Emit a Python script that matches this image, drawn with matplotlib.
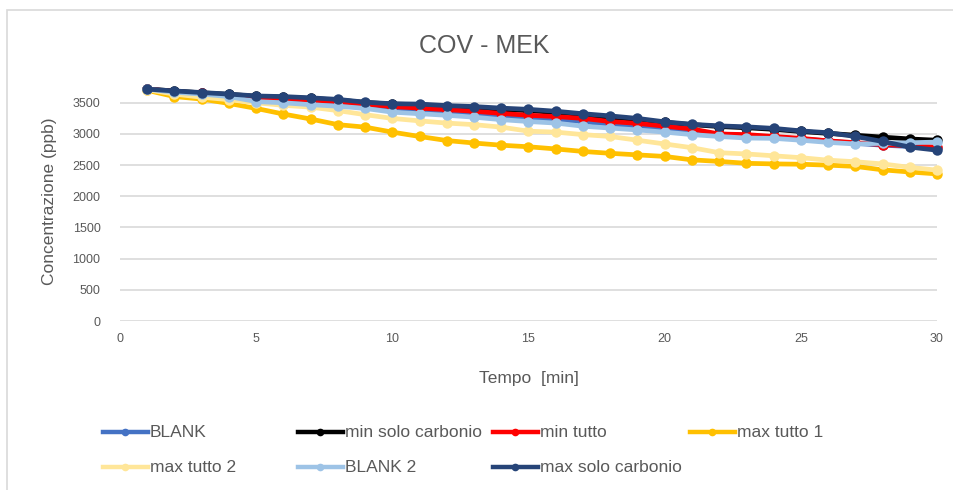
import matplotlib
matplotlib.use("Agg")
import matplotlib.pyplot as plt
from matplotlib.lines import Line2D
from matplotlib.patches import Rectangle

# ---- data -------------------------------------------------------------
minutes = list(range(1, 31))

blank = [3720, 3680, 3650, 3620, 3580, 3560, 3530, 3500, 3470, 3420,
         3380, 3350, 3320, 3290, 3260, 3230, 3200, 3150, 3120, 3080,
         3040, 3000, 2980, 2950, 2920, 2890, 2850, 2820, 2800, 2770]
min_solo_carbonio = [3720, 3690, 3660, 3635, 3605, 3590, 3570, 3545, 3505, 3480,
                     3470, 3440, 3420, 3395, 3375, 3345, 3300, 3270, 3230, 3185,
                     3150, 3120, 3100, 3075, 3040, 3010, 2980, 2950, 2920, 2900]
min_tutto = [3720, 3680, 3650, 3620, 3590, 3570, 3545, 3520, 3480, 3440,
             3415, 3390, 3365, 3330, 3300, 3280, 3250, 3200, 3170, 3125,
             3080, 3000, 2990, 2960, 2930, 2890, 2860, 2830, 2810, 2790]
max_tutto_1 = [3700, 3600, 3560, 3490, 3410, 3320, 3240, 3150, 3110, 3030,
               2960, 2895, 2855, 2820, 2795, 2760, 2720, 2690, 2665, 2640,
               2585, 2560, 2530, 2520, 2515, 2500, 2480, 2425, 2390, 2360]
max_tutto_2 = [3710, 3640, 3590, 3550, 3500, 3460, 3430, 3375, 3310, 3250,
               3210, 3175, 3150, 3110, 3045, 3030, 2990, 2960, 2900, 2840,
               2780, 2700, 2680, 2650, 2620, 2580, 2555, 2520, 2465, 2420]
blank_2 = [3720, 3670, 3640, 3600, 3520, 3500, 3470, 3445, 3410, 3350,
           3325, 3300, 3270, 3230, 3200, 3175, 3125, 3095, 3065, 3030,
           2990, 2960, 2935, 2930, 2900, 2865, 2840, 2850, 2860, 2870]
max_solo_carbonio = [3720, 3690, 3665, 3640, 3610, 3600, 3580, 3555, 3510, 3485,
                     3480, 3455, 3440, 3415, 3395, 3365, 3325, 3290, 3250, 3195,
                     3155, 3130, 3115, 3090, 3050, 3020, 2960, 2880, 2790, 2740]

series_names = ["BLANK", "min solo carbonio", "min tutto", "max tutto 1",
                "max tutto 2", "BLANK 2", "max solo carbonio"]
series_values = [blank, min_solo_carbonio, min_tutto, max_tutto_1,
                 max_tutto_2, blank_2, max_solo_carbonio]
series_colors = ["#4472C4", "#000000", "#FF0000", "#FFC000",
                 "#FFE699", "#9DC3E6", "#264478"]

x_ticks = [0, 5, 10, 15, 20, 25, 30]
y_ticks = [0, 500, 1000, 1500, 2000, 2500, 3000, 3500]

title = "COV - MEK"
x_label = "Tempo  [min]"
y_label = "Concentrazione (ppb)"

plt.rcParams["font.family"] = ["Liberation Sans", "DejaVu Sans"]

text_color = "#595959"
grid_color = "#D9D9D9"

W, H = 954, 490
fig = plt.figure(figsize=(W / 100, H / 100), dpi=100)

# chart frame
fig.patches.append(Rectangle((7 / W, -0.05), 1.1, 1 - 10 / H + 0.05,
                             transform=fig.transFigure, fill=False,
                             edgecolor=grid_color, linewidth=1.2))

ax = fig.add_axes([120 / W, 1 - 321 / H, (937 - 120) / W, (321 - 81) / H])
ax.set_xlim(0, 30)
ax.set_ylim(0, 3850)
ax.set_xticks(x_ticks)
ax.set_yticks(y_ticks)
ax.grid(axis="y", color=grid_color, linewidth=1.2)
ax.set_axisbelow(True)
for s in ax.spines.values():
    s.set_visible(False)
ax.tick_params(length=0, labelsize=9, colors=text_color)
ax.tick_params(axis="y", pad=14)
ax.tick_params(axis="x", pad=9)

for name, vals, col in zip(series_names, series_values, series_colors):
    ax.plot(minutes, vals, color=col, linewidth=3.4, marker="o",
            markersize=7.5, markeredgewidth=0, label=name,
            clip_on=False, solid_joinstyle="round")

ax.set_xlabel(x_label, fontsize=12.5, color=text_color)
ax.set_ylabel(y_label, fontsize=12.5, color=text_color)
ax.xaxis.set_label_coords(0.5, (321 - 378) / 240)
ax.xaxis.label.set_va("center")
ax.yaxis.set_label_coords((50 - 120) / 817, 0.5)
ax.yaxis.label.set_va("center")

fig.text(484 / W, 1 - 46 / H, title, ha="center", va="center",
         fontsize=18, color=text_color)

# legend: four evenly spaced columns, two rows
col_x = [103, 298, 493, 690]
row_y = [432, 467]
for i, (name, col) in enumerate(zip(series_names, series_colors)):
    r, c = divmod(i, 4)
    x0 = col_x[c] / W
    x1 = (col_x[c] + 45) / W
    y = 1 - row_y[r] / H
    fig.add_artist(Line2D([x0, x1], [y, y], transform=fig.transFigure,
                          color=col, linewidth=3.2))
    fig.add_artist(Line2D([(x0 + x1) / 2], [y], transform=fig.transFigure,
                          color=col, marker="o", markersize=5.5,
                          markeredgewidth=0))
    fig.text((col_x[c] + 47) / W, y, name, ha="left", va="center",
             fontsize=12.5, color=text_color)

fig.savefig("out.png", dpi=100)
